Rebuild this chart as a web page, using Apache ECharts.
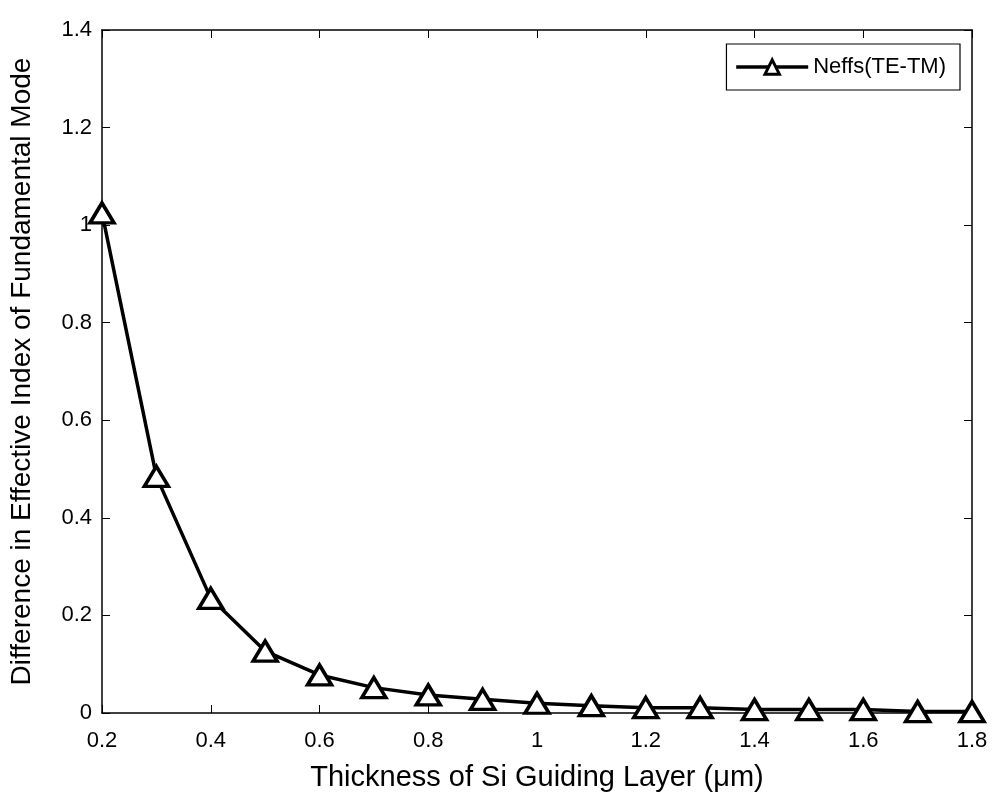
<!DOCTYPE html>
<html><head><meta charset="utf-8">
<script src="https://cdn.jsdelivr.net/npm/echarts@6/dist/echarts.min.js"></script>
<style>html,body{margin:0;padding:0;background:#fff}#c{width:992px;height:797px}</style>
</head><body><div id="c"></div>
<script>
const thickness = [0.2,0.3,0.4,0.5,0.6,0.7,0.8,0.9,1.0,1.1,1.2,1.3,1.4,1.5,1.6,1.7,1.8];
const neffDiff = [1.025,0.485,0.235,0.127,0.078,0.052,0.037,0.028,0.020,0.015,0.011,0.011,0.007,0.007,0.007,0.003,0.003];
const seriesName = 'Neffs(TE-TM)';
const xTitle = 'Thickness of Si Guiding Layer (\u03bcm)';
const yTitle = 'Difference in Effective Index of Fundamental Mode';

const fmt = v => { const r = Math.round(v*10)/10; return String(r); };
const font = 'Liberation Sans, Arial, sans-serif';
const chart = echarts.init(document.getElementById('c'));
const axisCommon = {
  type:'value', interval:0.2,
  axisLine:{show:true,onZero:false,lineStyle:{color:'#000',width:1.5}},
  axisTick:{show:true,inside:true,length:8,lineStyle:{color:'#000',width:1}},
  splitLine:{show:false}
};
chart.setOption({
  animation:false,
  grid:{left:102,right:20,top:30,bottom:84,show:false},
  legend:{
    data:[seriesName], right:32, top:44, orient:'horizontal',
    itemWidth:72, itemHeight:18, itemGap:5,
    borderColor:'#000', borderWidth:1.2, padding:[12,14,12,8], backgroundColor:'#fff',
    lineStyle:{width:3.5,color:'#000'},
    itemStyle:{color:'#fff',borderColor:'#000',borderWidth:3},
    textStyle:{fontFamily:font,fontSize:22,color:'#000'}
  },
  xAxis:[
    Object.assign({}, axisCommon, {min:0.2,max:1.8,position:'bottom',
      name:xTitle,nameLocation:'middle',nameGap:50,
      nameTextStyle:{fontFamily:font,fontSize:29,color:'#000'},
      axisLabel:{formatter:fmt,fontFamily:font,fontSize:22,color:'#000',margin:17}}),
    Object.assign({}, axisCommon, {min:0.2,max:1.8,position:'top',axisLabel:{show:false}})
  ],
  yAxis:[
    Object.assign({}, axisCommon, {min:0,max:1.4,position:'left',
      name:yTitle,nameLocation:'middle',nameGap:66,
      nameTextStyle:{fontFamily:font,fontSize:28,color:'#000'},
      axisLabel:{formatter:fmt,fontFamily:font,fontSize:22,color:'#000',margin:10}}),
    Object.assign({}, axisCommon, {min:0,max:1.4,position:'right',axisLabel:{show:false}})
  ],
  series:[{
    name:seriesName, type:'line',
    data:thickness.map((x,i)=>[x,neffDiff[i]]),
    symbol:'triangle', symbolSize:[24,20], showAllSymbol:true,
    lineStyle:{color:'#000',width:3.5},
    itemStyle:{color:'#fff',borderColor:'#000',borderWidth:3.5}
  }]
});
</script></body></html>
